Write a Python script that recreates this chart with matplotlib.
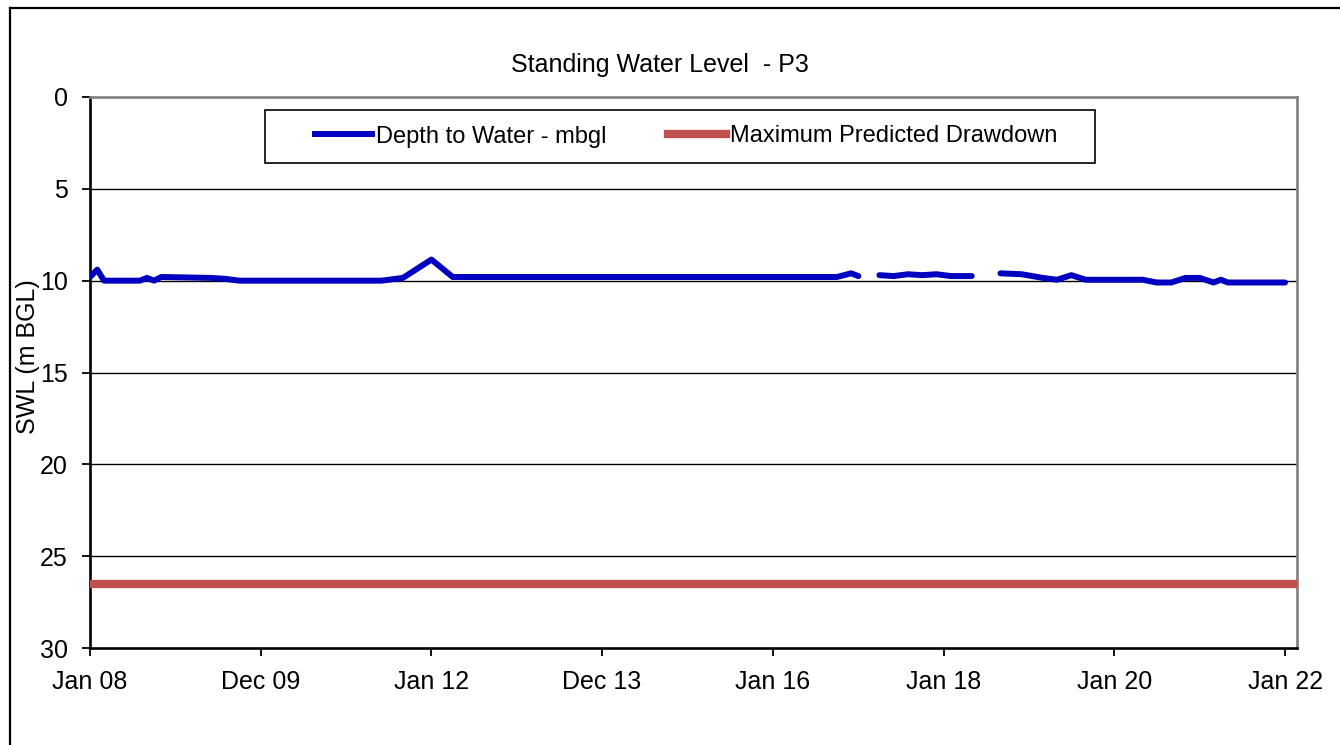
import matplotlib
matplotlib.use("Agg")
import matplotlib.pyplot as plt
from matplotlib import font_manager
from matplotlib.lines import Line2D
from matplotlib.patches import Rectangle
import pandas as pd
import numpy as np

# ---- data -------------------------------------------------------------
sample_dates = ['2008-01-01', '2008-02-01', '2008-03-01', '2008-08-01', '2008-09-01',
                '2008-10-01', '2008-11-01', '2009-06-01', '2009-08-01', '2009-10-01',
                '2011-06-01', '2011-09-01', '2012-01-01', '2012-04-01', '2016-10-01',
                '2016-12-01', '2017-01-01', '2017-02-15', '2017-04-01', '2017-06-01',
                '2017-08-01', '2017-10-01', '2017-12-01', '2018-02-01', '2018-05-01',
                '2018-07-01', '2018-09-01', '2018-12-01', '2019-03-01', '2019-05-01',
                '2019-07-01', '2019-09-01', '2020-05-01', '2020-07-01', '2020-09-01',
                '2020-11-01', '2021-01-01', '2021-03-01', '2021-04-01', '2021-05-01',
                '2022-01-01']
depth_to_water = [9.8, 9.4, 10.0, 10.0, 9.85,
                  10.0, 9.8, 9.85, 9.9, 10.0,
                  10.0, 9.85, 8.85, 9.8, 9.8,
                  9.6, 9.75, np.nan, 9.7, 9.75,
                  9.65, 9.7, 9.65, 9.75, 9.75,
                  np.nan, 9.6, 9.65, 9.85, 9.95,
                  9.7, 9.95, 9.95, 10.1, 10.1,
                  9.85, 9.85, 10.1, 9.95, 10.1,
                  10.1]
max_predicted_drawdown = 26.5

tick_dates = ['2008-01-01', '2009-12-31', '2012-01-01', '2013-12-31',
              '2016-01-01', '2018-01-01', '2020-01-01', '2022-01-01']
tick_labels = ['Jan 08', 'Dec 09', 'Jan 12', 'Dec 13',
               'Jan 16', 'Jan 18', 'Jan 20', 'Jan 22']
y_ticks = [0, 5, 10, 15, 20, 25, 30]

# ---- fonts ------------------------------------------------------------
def pick_font(candidates):
    for name in candidates:
        try:
            font_manager.findfont(name, fallback_to_default=False)
            return name
        except Exception:
            continue
    return 'DejaVu Sans'

main_font = pick_font(['Liberation Sans', 'Arial', 'DejaVu Sans'])
plt.rcParams['font.family'] = [main_font, 'DejaVu Sans']

W, H = 1340, 745
BLUE = '#0000C0'
RED = '#C0504D'

fig = plt.figure(figsize=(W / 100, H / 100), dpi=100)
fig.patch.set_facecolor('white')

# outer chart frame (left and top edges)
fig.add_artist(Line2D([10 / W, 10 / W], [0, 1 - 8 / H], color='black', lw=1.6,
                      transform=fig.transFigure))
fig.add_artist(Line2D([10 / W, 1], [1 - 8 / H, 1 - 8 / H], color='black', lw=1.6,
                      transform=fig.transFigure))

left, right, top, bottom = 90, 1297, 97, 648
ax = fig.add_axes([left / W, 1 - bottom / H, (right - left) / W, (bottom - top) / H])

x = pd.to_datetime(sample_dates)
ax.plot(x, depth_to_water, color=BLUE, lw=4.3, solid_capstyle='round',
        solid_joinstyle='round', zorder=3)
ax.axhline(max_predicted_drawdown, color=RED, lw=6, zorder=3)

ax.set_ylim(30, 0)
ax.set_yticks(y_ticks)
ax.set_xlim(pd.Timestamp('2008-01-01'), pd.Timestamp('2022-02-21'))
ax.set_xticks(pd.to_datetime(tick_dates))
ax.set_xticklabels(tick_labels)

for yv in y_ticks[1:-1]:
    ax.axhline(yv, color='black', lw=1.0, zorder=1)

for side in ('left', 'bottom'):
    ax.spines[side].set_color('black')
    ax.spines[side].set_linewidth(1.9)
for side in ('top', 'right'):
    ax.spines[side].set_color('#808080')
    ax.spines[side].set_linewidth(1.9)

ax.tick_params(axis='both', which='major', direction='out', length=6, width=1.3,
               labelsize=18, colors='black')
ax.tick_params(axis='x', pad=10)
ax.tick_params(axis='y', pad=10)

# title and axis label
fig.text(660 / W, 1 - 72 / H, 'Standing Water Level  - P3', ha='center',
         va='baseline', fontsize=18, color='black')
fig.text(28 / W, 1 - 357 / H, 'SWL (m BGL)', rotation=90, ha='center', va='center',
         fontsize=18, color='black')

# legend
fig.add_artist(Rectangle((265 / W, 1 - 163 / H), (1095 - 265) / W, (163 - 110) / H,
                         transform=fig.transFigure, fill=False, edgecolor='black',
                         lw=1.2))
handles = [Line2D([], [], color=BLUE, lw=4.3),
           Line2D([], [], color=RED, lw=6)]
fig.legend(handles, ['Depth to Water - mbgl', 'Maximum Predicted Drawdown'],
           loc='center', bbox_to_anchor=(686 / W, 1 - 136.5 / H), ncol=2,
           frameon=False, fontsize=17, handlelength=2.45, handletextpad=0.17,
           columnspacing=2.6, borderpad=0.0)

fig.savefig('out.png', dpi=100, facecolor='white')
